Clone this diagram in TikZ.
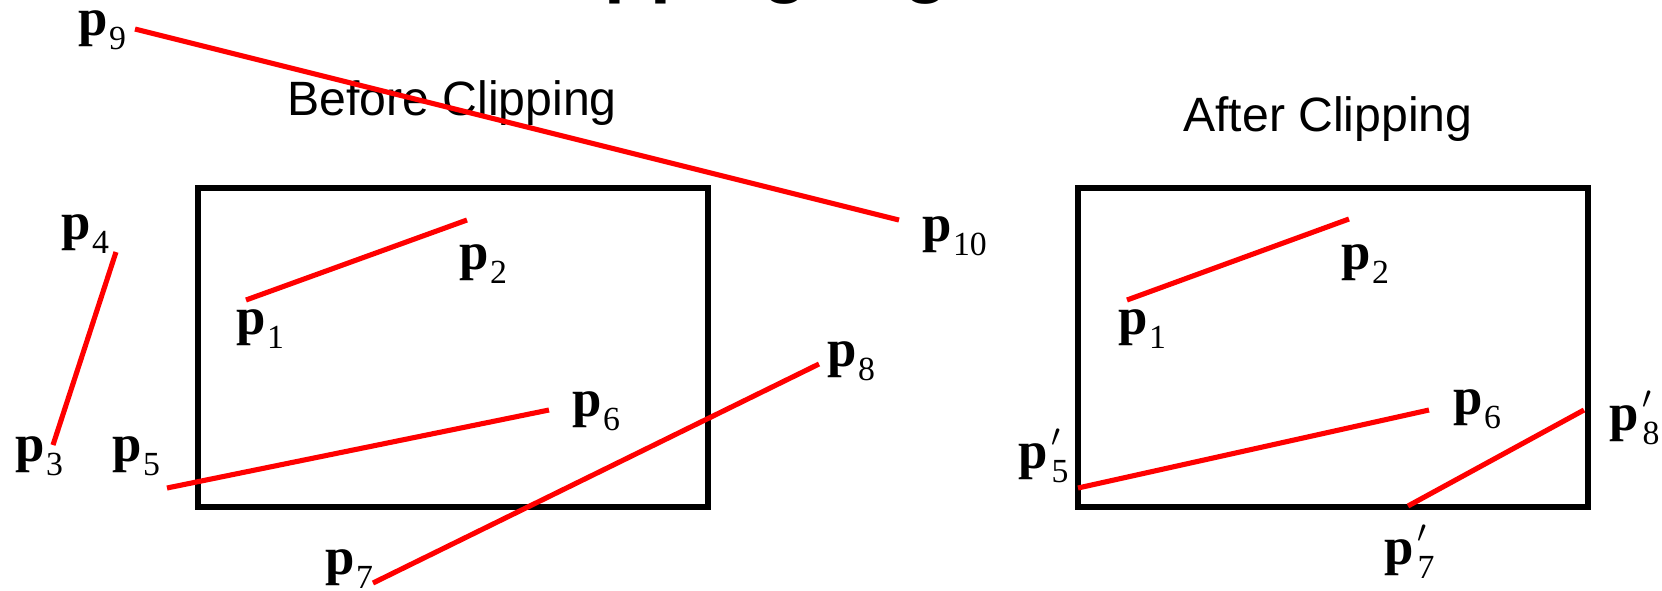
\documentclass[tikz,border=0pt]{standalone}
\usepackage{fontspec}
\setmainfont{Liberation Serif}
\setsansfont{Liberation Sans}
\usetikzlibrary{arrows.meta,positioning}

\newcommand{\subsz}{\fontsize{9.6}{10}\selectfont}
\newcommand{\vtx}[1]{\textbf{p}\kern0.3pt\raisebox{-4pt}{\subsz #1}}
\newcommand{\vtxp}[1]{\textbf{p}\kern1pt\rlap{\raisebox{-4pt}{\subsz #1}}\raisebox{6pt}{\fontsize{9.5}{10}\selectfont$\prime$}}

\begin{document}
\begin{tikzpicture}[
		x=0.01cm, y=-0.01cm,
		win/.style={draw, line width=1.55pt},
		seg/.style={draw=red, line width=1.45pt},
		lbl/.style={inner sep=0pt, anchor=base west, font=\fontsize{15}{16}\selectfont},
		heading/.style={inner sep=0pt, font=\sffamily\fontsize{13.7}{16}\selectfont},
		>=Latex
	]
	\useasboundingbox (0,0) rectangle (1662,590);

	\node[inner sep=0pt, anchor=base west, font=\sffamily\bfseries\fontsize{21.3}{24}\selectfont] (title) at (508,-12) {Clipping Algorithm};

	\node[heading] (before) at (452,103) {Before Clipping};
	\node[heading] (after) at (1328,119) {After Clipping};

	\draw[win] (198,188) rectangle (708,507);
	\draw[win] (1078,188) rectangle (1588,507);

	% before clipping
	\coordinate (p1) at (246,300);
	\coordinate (p2) at (467,220);
	\coordinate (p3) at (53,445);
	\coordinate (p4) at (116,252);
	\coordinate (p5) at (167,488);
	\coordinate (p6) at (549,410);
	\coordinate (p7) at (373,583);
	\coordinate (p8) at (819,364);
	\coordinate (p9) at (135,29);
	\coordinate (p10) at (899,220);

	\draw[seg] (p1) -- (p2);
	\draw[seg] (p3) -- (p4);
	\draw[seg] (p5) -- (p6);
	\draw[seg] (p7) -- (p8);
	\draw[seg] (p9) -- (p10);

	\node[lbl] (l1) at (236,334) {\vtx{1}};
	\node[lbl] (l2) at (459,269) {\vtx{2}};
	\node[lbl] (l3) at (15,461) {\vtx{3}};
	\node[lbl] (l4) at (61,239) {\vtx{4}};
	\node[lbl] (l5) at (112,461) {\vtx{5}};
	\node[lbl] (l6) at (572,416) {\vtx{6}};
	\node[lbl] (l7) at (325,574) {\vtx{7}};
	\node[lbl] (l8) at (827,366) {\vtx{8}};
	\node[lbl] (l9) at (78,35) {\vtx{9}};
	\node[lbl] (l10) at (922,241) {\vtx{10}};

	% after clipping
	\coordinate (q1) at (1127,300);
	\coordinate (q2) at (1349,219);
	\coordinate (q5) at (1078,488);
	\coordinate (q6) at (1429,410);
	\coordinate (q7) at (1408,506);
	\coordinate (q8) at (1584,410);

	\draw[seg] (q1) -- (q2);
	\draw[seg] (q5) -- (q6);
	\draw[seg] (q7) -- (q8);

	\node[lbl] (m1) at (1118,334) {\vtx{1}};
	\node[lbl] (m2) at (1341,269) {\vtx{2}};
	\node[lbl] (m5) at (1018,468) {\vtxp{5}};
	\node[lbl] (m6) at (1453,414) {\vtx{6}};
	\node[lbl] (m7) at (1384,564) {\vtxp{7}};
	\node[lbl] (m8) at (1609,430) {\vtxp{8}};
\end{tikzpicture}
\end{document}
